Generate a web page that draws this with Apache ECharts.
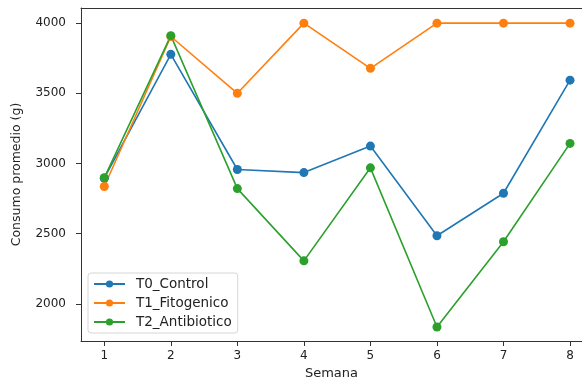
<!DOCTYPE html>
<html>
<head>
<meta charset="utf-8">
<script src="https://cdn.jsdelivr.net/npm/echarts@6/dist/echarts.min.js"></script>
<style>html,body{margin:0;padding:0;background:#fff}#c{width:582px;height:381px}</style>
</head>
<body>
<div id="c"></div>
<script>
const semanas = [1, 2, 3, 4, 5, 6, 7, 8];
const t0Control = [2895, 3778, 2957, 2935, 3124, 2485, 2788, 3594];
const t1Fitogenico = [2836, 3905, 3500, 4000, 3678, 4000, 4000, 4000];
const t2Antibiotico = [2898, 3911, 2821, 2306, 2969, 1835, 2442, 3143];
const yTicks = [2000, 2500, 3000, 3500, 4000];
const seriesNames = ['T0_Control', 'T1_Fitogenico', 'T2_Antibiotico'];
const colors = ['#1f77b4', '#ff7f0e', '#2ca02c'];
const allData = [t0Control, t1Fitogenico, t2Antibiotico];

const font = 'DejaVu Sans';
const ink = '#222';
const chart = echarts.init(document.getElementById('c'), null, {renderer: 'canvas'});
chart.setOption({
  animation: false,
  grid: {left: 81, top: 8, right: 0, bottom: 40, containLabel: false, outerBoundsMode: 'none'},
  legend: {
    orient: 'vertical', left: 88, top: 273,
    data: seriesNames,
    backgroundColor: '#fff', borderColor: '#d6d6d6', borderWidth: 1, borderRadius: 3,
    padding: [4, 6, 4, 5], itemGap: 5, itemWidth: 31, itemHeight: 9,
    textStyle: {fontFamily: font, fontSize: 13.5, lineHeight: 14, color: ink, padding: [0, 0, 0, 6]}
  },
  xAxis: [{
    type: 'value', min: 0.65, max: 8.18,
    name: 'Semana', nameLocation: 'middle', nameGap: 26,
    nameTextStyle: {fontFamily: font, fontSize: 13, color: ink},
    splitLine: {show: false},
    axisLine: {show: true, lineStyle: {color: '#333'}},
    axisTick: {show: true, inside: false, length: 5, lineStyle: {color: '#333'}, customValues: semanas},
    axisLabel: {fontFamily: font, fontSize: 12, color: ink, margin: 9, customValues: semanas}
  }, {
    type: 'value', position: 'top', min: 0.65, max: 8.18,
    splitLine: {show: false},
    axisLine: {show: true, onZero: false, lineStyle: {color: '#333'}},
    axisTick: {show: false}, axisLabel: {show: false}
  }],
  yAxis: {
    type: 'value', min: 1735, max: 4108,
    name: 'Consumo promedio (g)', nameLocation: 'middle', nameGap: 58,
    nameTextStyle: {fontFamily: font, fontSize: 12.5, color: ink},
    splitLine: {show: false},
    axisLine: {show: true, lineStyle: {color: '#333'}},
    axisTick: {show: true, inside: false, length: 5, lineStyle: {color: '#333'}, customValues: yTicks},
    axisLabel: {fontFamily: font, fontSize: 12, color: ink, margin: 15, customValues: yTicks,
      formatter: v => String(v)}
  },
  series: allData.map((d, i) => ({
    name: seriesNames[i], type: 'line', xAxisIndex: 0,
    data: d.map((v, j) => [semanas[j], v]),
    symbol: 'circle', symbolSize: 9,
    itemStyle: {color: colors[i]},
    lineStyle: {color: colors[i], width: 1.6}
  }))
});
</script>
</body>
</html>
